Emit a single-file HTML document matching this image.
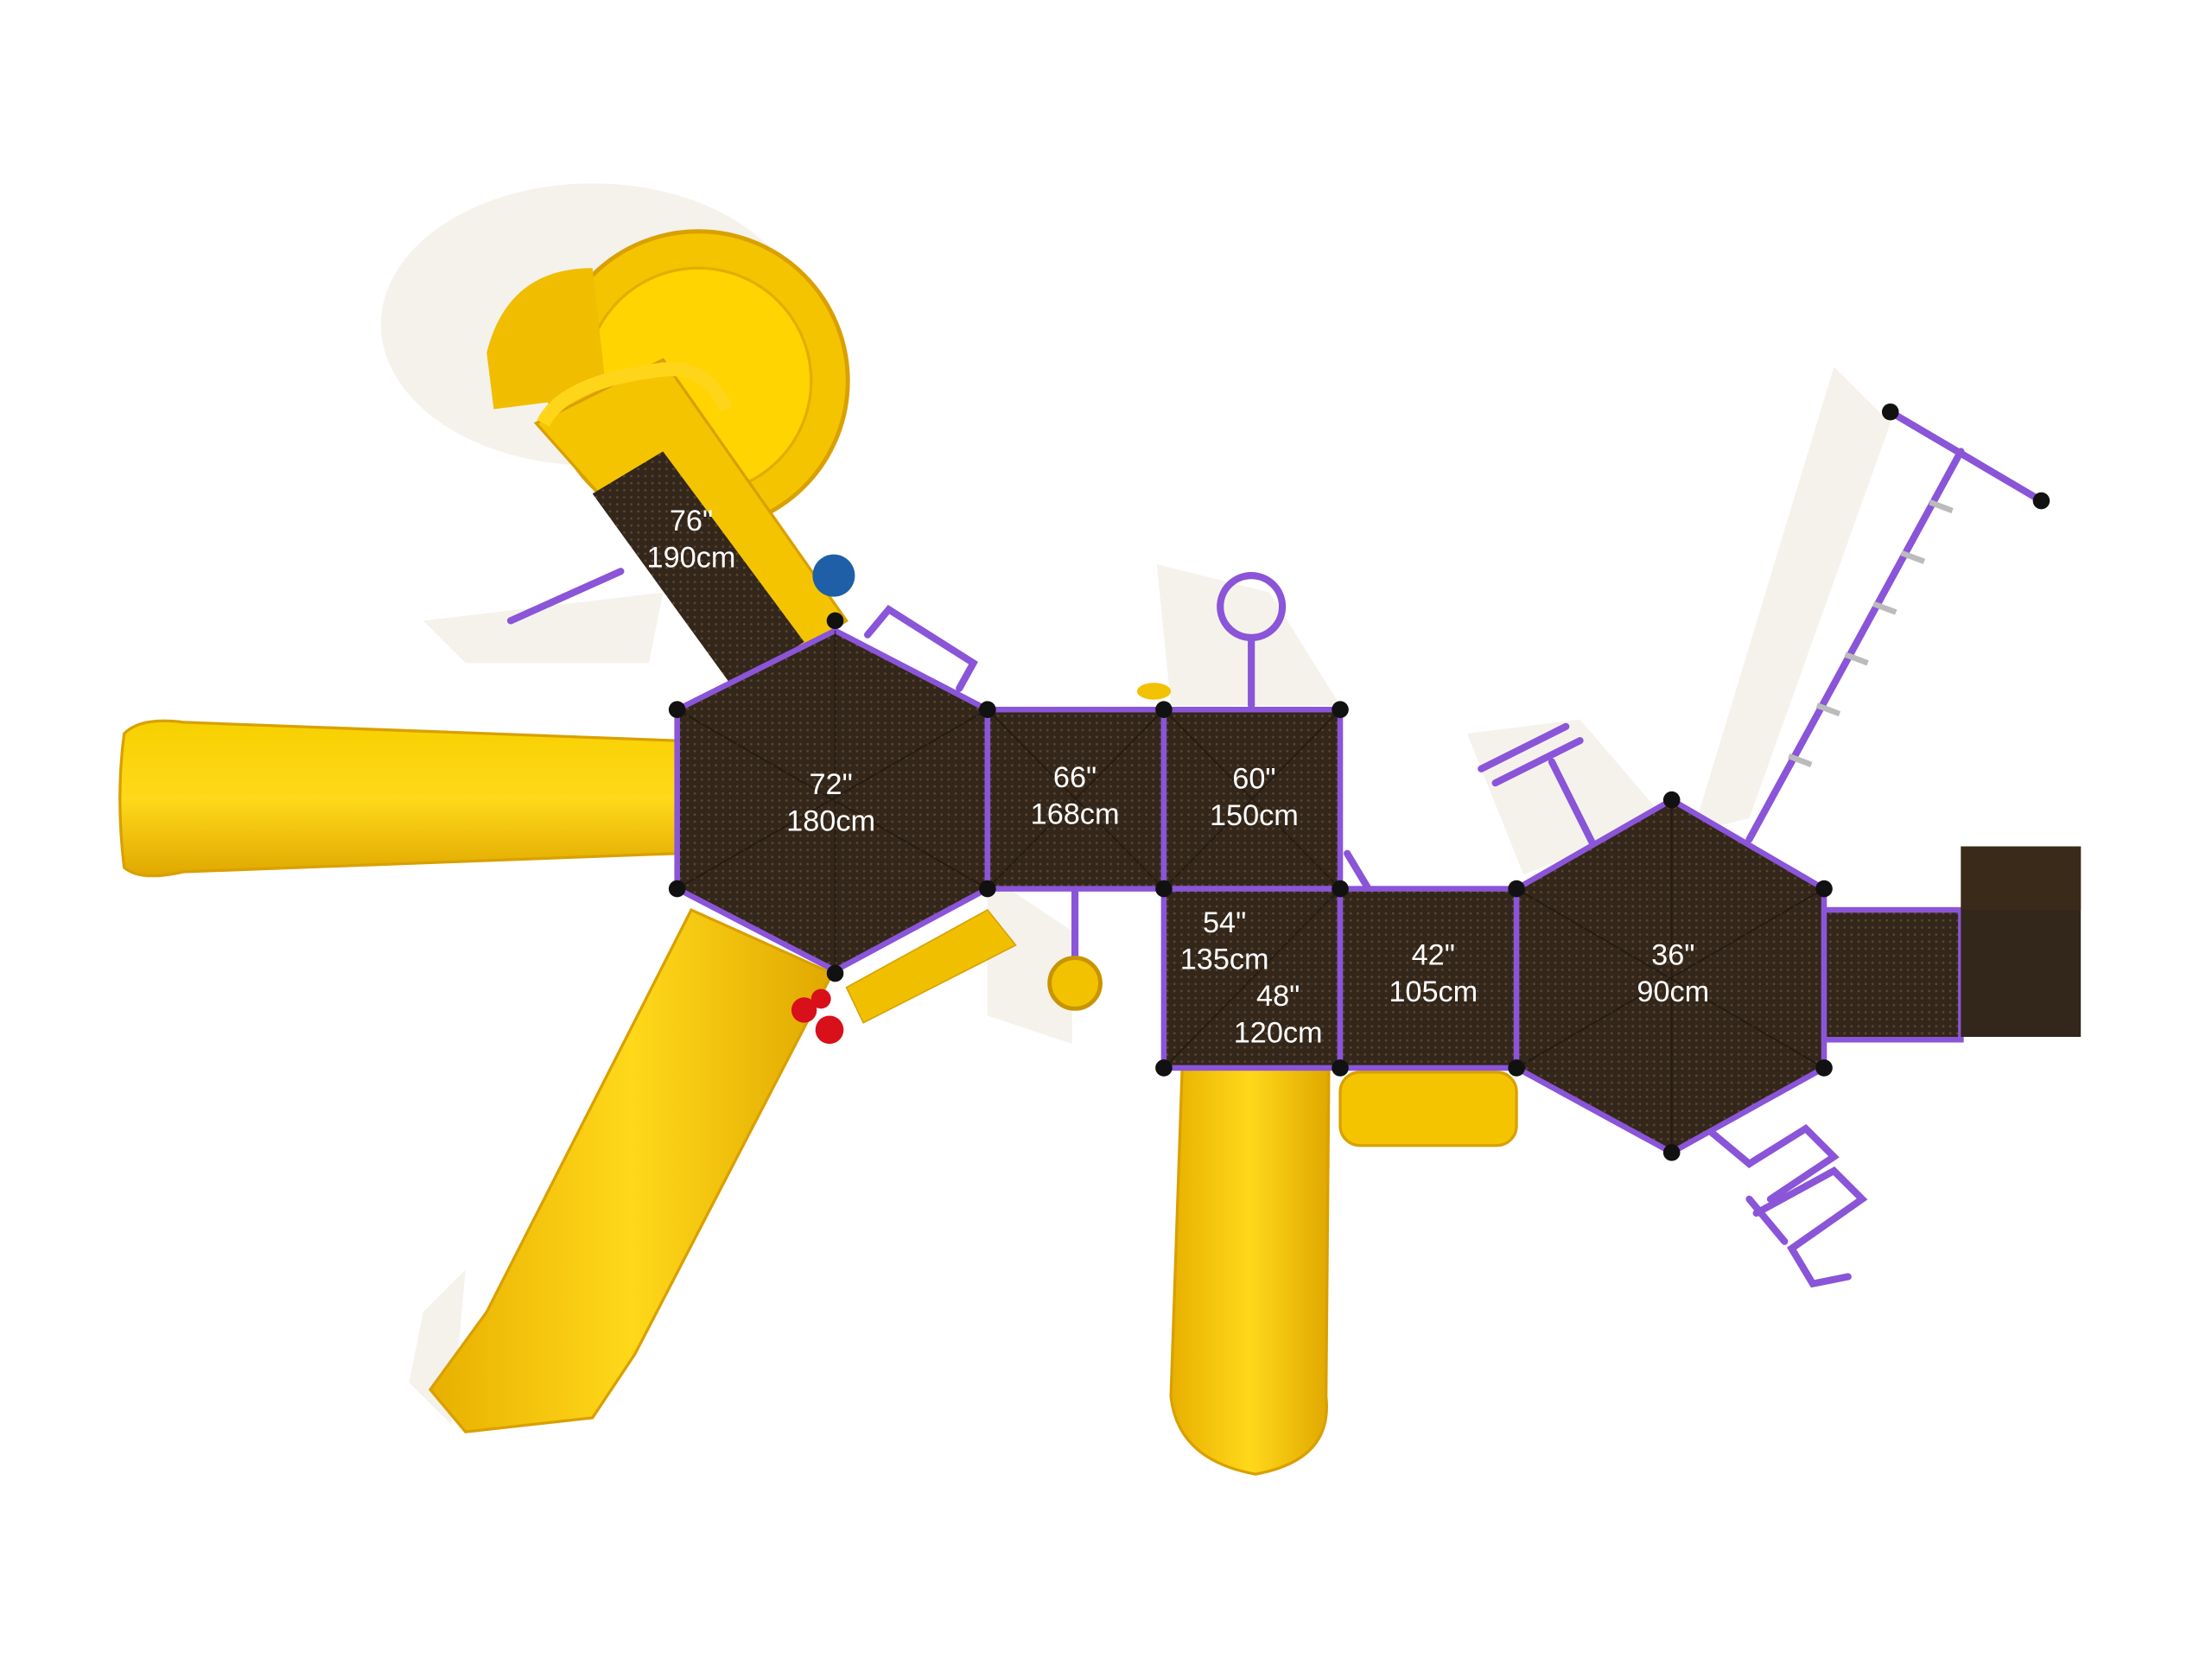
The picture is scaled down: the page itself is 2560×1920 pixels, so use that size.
<!DOCTYPE html>
<html><head><meta charset="utf-8"><style>
html,body{margin:0;padding:0;background:#fff;width:2560px;height:1920px;overflow:hidden}
svg{display:block}
text{font-family:"Liberation Sans","DejaVu Sans",sans-serif;fill:#fff;font-size:21px;text-anchor:middle}
</style></head><body>
<svg width="2560" height="1920" viewBox="0 0 1568 1176" xmlns="http://www.w3.org/2000/svg">
<defs>
<linearGradient id="ys" x1="0" y1="0" x2="0" y2="1"><stop offset="0" stop-color="#f7d000"/><stop offset="0.5" stop-color="#ffd91a"/><stop offset="1" stop-color="#e0a800"/></linearGradient>
<linearGradient id="yv" x1="0" y1="0" x2="1" y2="0"><stop offset="0" stop-color="#e8b000"/><stop offset="0.5" stop-color="#ffd81a"/><stop offset="1" stop-color="#e0a800"/></linearGradient>
<pattern id="dots" width="5" height="5" patternUnits="userSpaceOnUse"><rect width="5" height="5" fill="#33261a"/><circle cx="2.5" cy="2.5" r="0.9" fill="#5a4430"/></pattern>
</defs>
<!-- shadows -->
<g fill="#f5f2ec">
<ellipse cx="420" cy="230" rx="150" ry="100"/>
<polygon points="300,440 470,420 460,470 330,470"/>
<polygon points="700,620 760,660 760,740 700,720"/>
<polygon points="820,400 900,420 950,500 830,500"/>
<polygon points="1040,520 1120,510 1180,580 1080,620"/>
<polygon points="1300,260 1340,300 1240,580 1200,590"/>
<polygon points="300,930 330,900 320,1010 290,980"/>
</g>
<!-- left horizontal slide -->
<path d="M88,520 Q82,565 88,615 Q100,625 130,618 L480,605 L480,525 L130,512 Q100,508 88,520Z" fill="url(#ys)" stroke="#d9a000" stroke-width="2"/>
<!-- spiral slide -->
<circle cx="495" cy="270" r="106" fill="#f5c400" stroke="#d9a000" stroke-width="3"/>
<circle cx="495" cy="270" r="80" fill="#ffd400" stroke="#e3ad00" stroke-width="2"/>
<path d="M345,250 Q360,190 420,190 L430,280 L350,290Z" fill="#f0bd00"/>
<!-- 76 slide chute -->
<polygon points="380,300 470,255 600,440 540,480" fill="#f5c400" stroke="#d9a000" stroke-width="2"/>
<polygon points="420,350 470,320 570,455 520,488" fill="url(#dots)"/>
<path d="M385,300 Q400,270 470,262 Q500,258 515,290" fill="none" stroke="#ffd51a" stroke-width="10"/>
<!-- lower-left diagonal slide -->
<polygon points="490,645 590,690 450,960 420,1005 330,1015 305,985 345,930" fill="url(#yv)" stroke="#d9a000" stroke-width="2"/>
<!-- center slide -->
<path d="M838,757 L942,757 L940,990 Q945,1035 890,1045 Q835,1035 830,990Z" fill="url(#yv)" stroke="#d9a000" stroke-width="2"/>
<!-- yellow bin under 42 -->
<rect x="950" y="760" width="125" height="52" rx="14" fill="#f5c400" stroke="#d9a000" stroke-width="2"/>
<!-- yellow climber under 72 -->
<polygon points="600,700 700,645 720,670 612,725" fill="#f0c000" stroke="#d9a000"/>
<!-- purple frames -->
<g fill="none" stroke="#8a55d8" stroke-width="5" stroke-linecap="round">
<line x1="1240" y1="595" x2="1390" y2="320"/>
<line x1="1340" y1="292" x2="1447" y2="355"/>
<line x1="362" y1="440" x2="440" y2="405"/>
<path d="M615,450 L630,432 L690,470 L680,488"/>
<circle cx="887" cy="430" r="22"/>
<line x1="887" y1="452" x2="887" y2="500"/>
<line x1="762" y1="630" x2="762" y2="680"/>
<path d="M1050,545 L1110,515 M1060,555 L1120,525 M1100,540 L1130,600"/>
<path d="M1210,800 L1240,825 L1280,800 L1300,820 L1255,850 M1245,860 L1300,830 L1320,850 L1270,885 L1285,910 L1310,905 M1265,880 L1240,850"/>
<line x1="955" y1="605" x2="970" y2="630"/>
</g>
<g stroke="#bbb" stroke-width="4">
<line x1="1368" y1="356" x2="1384" y2="362"/><line x1="1348" y1="392" x2="1364" y2="398"/><line x1="1328" y1="428" x2="1344" y2="434"/><line x1="1308" y1="464" x2="1324" y2="470"/><line x1="1288" y1="500" x2="1304" y2="506"/><line x1="1268" y1="536" x2="1284" y2="542"/>
</g>
<!-- decks -->
<g stroke="#8a55d8" stroke-width="4">
<polygon points="592,447 700,503 700,630 592,688 480,630 480,503" fill="url(#dots)"/>
<rect x="700" y="503" width="125" height="127" fill="url(#dots)"/>
<rect x="825" y="503" width="125" height="127" fill="url(#dots)"/>
<rect x="825" y="630" width="125" height="127" fill="url(#dots)"/>
<rect x="950" y="630" width="125" height="127" fill="url(#dots)"/>
<polygon points="1185,567 1293,630 1293,757 1185,817 1075,757 1075,630" fill="url(#dots)"/>
<rect x="1293" y="645" width="97" height="92" fill="url(#dots)"/>
</g>
<rect x="1390" y="600" width="85" height="135" fill="#33261a"/>
<rect x="1390" y="600" width="85" height="45" fill="#3a2a1a"/>
<g stroke="#1a120b" stroke-width="1" opacity="0.6">
<line x1="592" y1="447" x2="592" y2="688"/><line x1="480" y1="503" x2="700" y2="630"/><line x1="480" y1="630" x2="700" y2="503"/>
<line x1="700" y1="503" x2="825" y2="630"/><line x1="700" y1="630" x2="825" y2="503"/>
<line x1="825" y1="503" x2="950" y2="630"/><line x1="825" y1="630" x2="950" y2="503"/>
<line x1="825" y1="757" x2="950" y2="630"/>
<line x1="1185" y1="567" x2="1185" y2="817"/><line x1="1075" y1="630" x2="1293" y2="757"/><line x1="1075" y1="757" x2="1293" y2="630"/>
</g>
<!-- posts -->
<g fill="#111">
<circle cx="592" cy="440" r="6"/><circle cx="700" cy="503" r="6"/><circle cx="700" cy="630" r="6"/><circle cx="592" cy="690" r="6"/><circle cx="480" cy="630" r="6"/><circle cx="480" cy="503" r="6"/>
<circle cx="825" cy="503" r="6"/><circle cx="950" cy="503" r="6"/><circle cx="825" cy="630" r="6"/><circle cx="950" cy="630" r="6"/><circle cx="825" cy="757" r="6"/><circle cx="950" cy="757" r="6"/><circle cx="1075" cy="630" r="6"/><circle cx="1075" cy="757" r="6"/>
<circle cx="1185" cy="567" r="6"/><circle cx="1293" cy="630" r="6"/><circle cx="1293" cy="757" r="6"/><circle cx="1185" cy="817" r="6"/>
<circle cx="1340" cy="292" r="6"/><circle cx="1447" cy="355" r="6"/>
</g>
<!-- accents -->
<circle cx="591" cy="408" r="15" fill="#1f5fa8"/>
<circle cx="570" cy="716" r="9" fill="#d8101a"/><circle cx="588" cy="730" r="10" fill="#d8101a"/><circle cx="582" cy="708" r="7" fill="#d8101a"/>
<circle cx="762" cy="697" r="18" fill="#f2c200" stroke="#c89400" stroke-width="3"/>
<ellipse cx="818" cy="490" rx="12" ry="6" fill="#f2c200"/>
<!-- labels -->
<text x="490" y="376">76"</text><text x="490" y="402">190cm</text>
<text x="589" y="563">72"</text><text x="589" y="589">180cm</text>
<text x="762" y="558">66"</text><text x="762" y="584">168cm</text>
<text x="889" y="559">60"</text><text x="889" y="585">150cm</text>
<text x="868" y="661">54"</text><text x="868" y="687">135cm</text>
<text x="906" y="713">48"</text><text x="906" y="739">120cm</text>
<text x="1016" y="684">42"</text><text x="1016" y="710">105cm</text>
<text x="1186" y="684">36"</text><text x="1186" y="710">90cm</text>
</svg>
</body></html>
